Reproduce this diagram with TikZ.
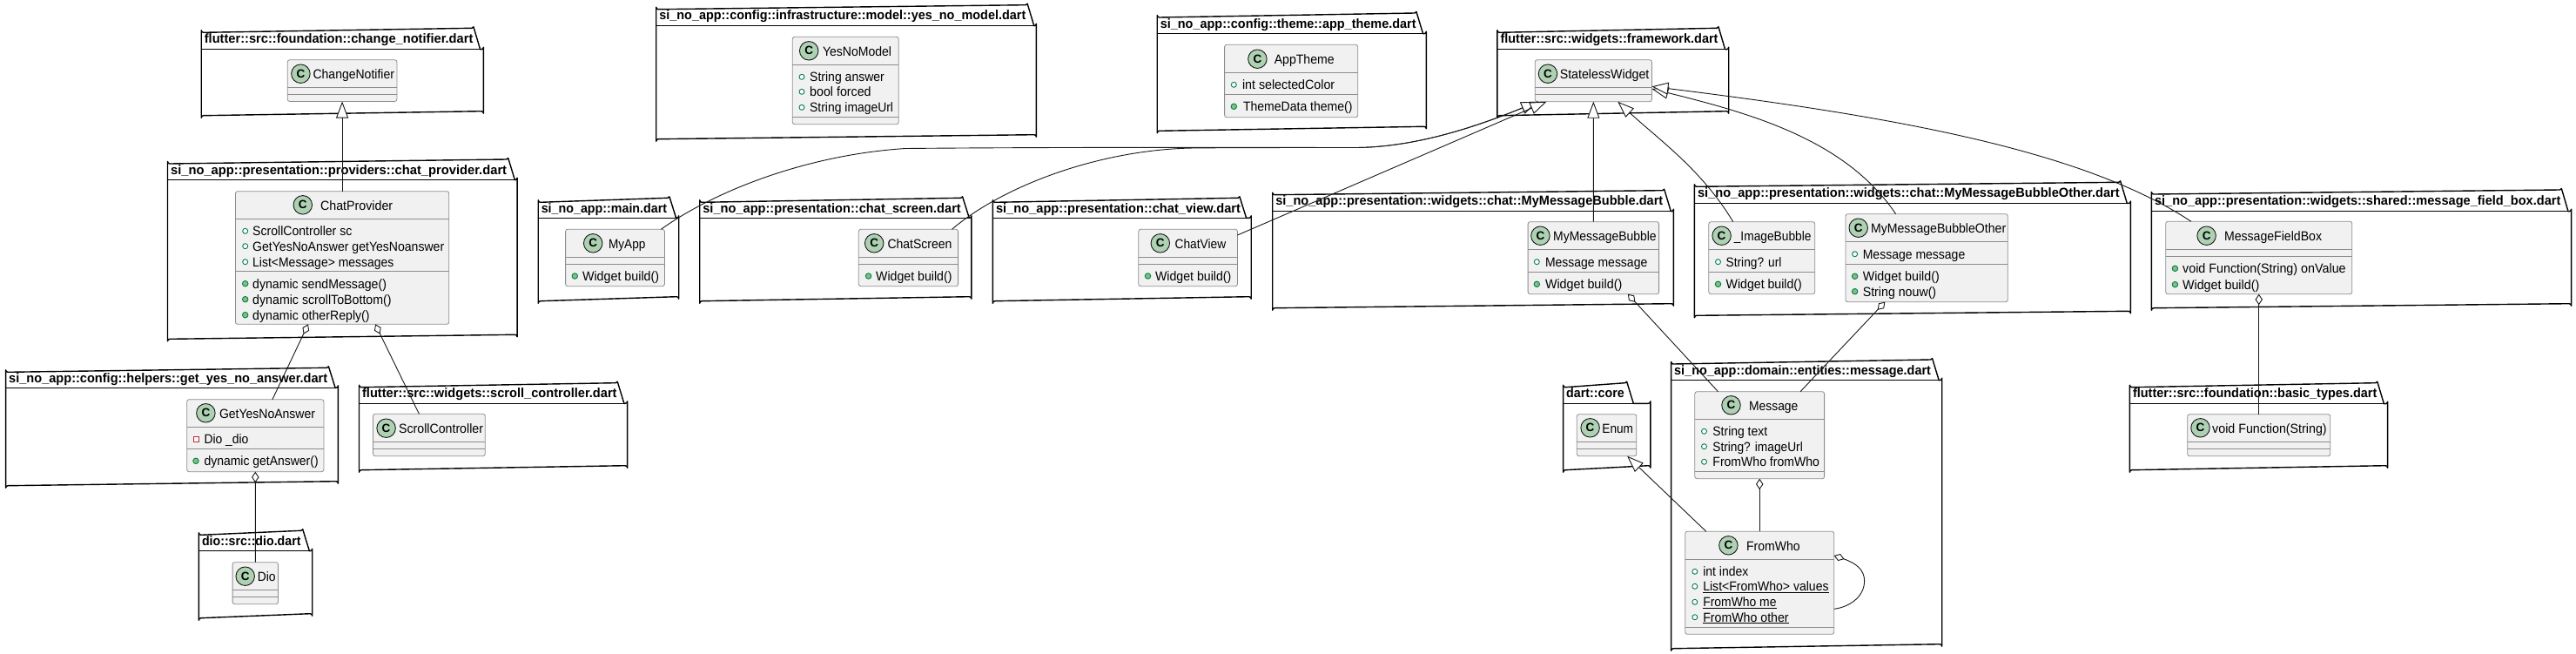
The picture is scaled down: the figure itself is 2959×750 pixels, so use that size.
\documentclass[tikz,border=0pt]{standalone}
\usepackage{fontspec}
\usepackage{graphicx}
\setmainfont{Liberation Sans}
\usetikzlibrary{arrows.meta}
\definecolor{lineC}{HTML}{181818}
\definecolor{boxC}{HTML}{F1F1F1}
\definecolor{boxL}{HTML}{8C8C8C}
\definecolor{iconC}{HTML}{ADD1B2}
\definecolor{pubL}{HTML}{038048}
\definecolor{pubF}{HTML}{84BE84}
\definecolor{privL}{HTML}{C82930}
\newcounter{autoN}
\newcommand{\fitw}[2]{\resizebox{#1pt}{\height}{#2}}
% name x0 y0 tabTopRight tabLine x2 y2 titleWidth title
\newcommand{\pkgbox}[9]{%
  \draw[pkgline] (#2,#3+2.5) arc[start angle=180,end angle=90,radius=2.5] -- (#4-2,#3)
     arc[start angle=90,end angle=15,radius=2] -- (#4+7.6,#5) -- (#6-2.5,#5)
     arc[start angle=90,end angle=0,radius=2.5] -- (#6,#7-2.5)
     arc[start angle=0,end angle=-90,radius=2.5] -- (#2+2.5,#7)
     arc[start angle=270,end angle=180,radius=2.5] -- cycle;
  \draw[pkgline] (#2,#5) -- (#4+7.6,#5);
  \node[plain,font=\fontsize{15}{15}\selectfont\bfseries] (#1) at (#2+3.6,#3+17) {\fitw{#8}{#9}};}
% name x1 y1 x2 y2 sep1 sep2
\newcommand{\cbox}[7]{%
  \node[classbox,minimum width={(#4-#2)*1pt},minimum height={(#5-#3)*1pt}] (#1) at (#2,#3) {};
  \draw[sepline] (#2,#6) -- (#4,#6);
  \draw[sepline] (#2,#7) -- (#4,#7);}
% name icon-x icon-y text-x text-y width text
\newcommand{\chead}[6]{%
  \stepcounter{autoN}%
  \node[classicon] (ic\arabic{autoN}) at (#1,#2) {};
  \node[font=\fontsize{13.5}{13.5}\selectfont\bfseries,text=black,inner sep=0pt] (icc\arabic{autoN}) at (#1,#2) {C};
  \node[plain] (hd\arabic{autoN}) at (#3,#4+5.3) {\fitw{#5}{#6}};}
% kind icon-x y text-x width text
\newcommand{\crow}[6]{%
  \stepcounter{autoN}%
  \node[#1] (mk\arabic{autoN}) at (#2,#3) {};
  \node[plain] (rw\arabic{autoN}) at (#4,#3+5.3) {\fitw{#5}{#6}};}
\tikzset{
  pkgline/.style={draw=black,line width=1.4pt,line join=round},
  sepline/.style={draw=boxL,line width=.8pt},
  plain/.style={anchor=base west,inner sep=0pt,outer sep=0pt,font=\fontsize{15}{15}\selectfont,text=black},
  classbox/.style={draw=boxL,fill=boxC,line width=.8pt,rounded corners=2.5pt,anchor=north west,inner sep=0pt,outer sep=0pt},
  classicon/.style={circle,draw=lineC,fill=iconC,line width=.9pt,minimum size=21.5pt,inner sep=0pt},
  pubattr/.style={circle,draw=pubL,line width=.9pt,fill=white,minimum size=6pt,inner sep=0pt},
  pubmeth/.style={circle,draw=pubL,line width=.9pt,fill=pubF,minimum size=6.5pt,inner sep=0pt},
  privattr/.style={rectangle,draw=privL,line width=.9pt,fill=white,minimum size=6pt,inner sep=0pt},
  inh/.style={draw=lineC,line width=.9pt,-{Triangle[fill=white,length=19pt,width=14pt,sep=0pt]}},
  agg/.style={draw=lineC,line width=.9pt,{Diamond[fill=white,length=12.5pt,width=8.5pt,sep=0pt]}-},
}
\begin{document}
\begin{tikzpicture}[x=1pt,y=-1pt]
\useasboundingbox (0,0) rectangle (2959,750);
% packages
\pkgbox{pChange}{231.2}{32.3}{544}{56.7}{555.4}{132.7}{308.6}{flutter::src::foundation::change\_notifier.dart}
\pkgbox{pProvider}{192.5}{183}{583.8}{206.7}{594.1}{389.3}{386}{si\_no\_app::presentation::providers::chat\_provider.dart}
\pkgbox{pHelpers}{6.6}{422.3}{377.5}{445.3}{388.4}{557.7}{366}{si\_no\_app::config::helpers::get\_yes\_no\_answer.dart}
\pkgbox{pScroll}{412.5}{439.7}{709.3}{463.3}{720.6}{539.7}{292.5}{flutter::src::widgets::scroll\_controller.dart}
\pkgbox{pDio}{228.4}{609.3}{347.8}{632.7}{358.7}{709.7}{113.5}{dio::src::dio.dart}
\pkgbox{pModel}{753.7}{5.7}{1180.2}{29.7}{1190.4}{159.7}{421}{si\_no\_app::config::infrastructure::model::yes\_no\_model.dart}
\pkgbox{pMain}{618.2}{227.3}{769}{250.3}{779.7}{345.7}{144.3}{si\_no\_app::main.dart}
\pkgbox{pScreen}{803.7}{227.3}{1105.7}{250.3}{1115.9}{345.7}{296.5}{si\_no\_app::presentation::chat\_screen.dart}
\pkgbox{pView}{1140.4}{227.3}{1424}{250.3}{1437.2}{345.7}{281}{si\_no\_app::presentation::chat\_view.dart}
\pkgbox{pTheme}{1329.2}{15}{1627}{38.7}{1638.3}{150.3}{293.8}{si\_no\_app::config::theme::app\_theme.dart}
\pkgbox{pFramework}{1719.9}{32.3}{1974}{56.7}{1985.7}{132.7}{250}{flutter::src::widgets::framework.dart}
\pkgbox{pBubble}{1461.7}{218.7}{1911.7}{242.7}{1922.4}{353.7}{445}{si\_no\_app::presentation::widgets::chat::MyMessageBubble.dart}
\pkgbox{pOther}{1946.4}{209.3}{2435.7}{233.5}{2447.4}{362.3}{484.7}{si\_no\_app::presentation::widgets::chat::MyMessageBubbleOther.dart}
\pkgbox{pField}{2471.4}{218}{2942.4}{242.7}{2953.6}{353.7}{466.4}{si\_no\_app::presentation::widgets::shared::message\_field\_box.dart}
\pkgbox{pBasic}{2446.4}{439.7}{2730.8}{463.7}{2742.6}{539.7}{280.3}{flutter::src::foundation::basic\_types.dart}
\pkgbox{pMessage}{1919.6}{413}{2219.6}{436.7}{2230.7}{744.7}{294.7}{si\_no\_app::domain::entities::message.dart}
\pkgbox{pCore}{1795.6}{439.7}{1868.7}{463.3}{1895.9}{539.7}{66.6}{dart::core}
% classes
\cbox{cn}{330.3}{68.7}{455.9}{116.5}{100.3}{108.3}
\chead{345.4}{84.7}{359.6}{85.3}{93.4}{ChangeNotifier}
\cbox{cp}{270.4}{219.7}{515.8}{372.3}{251.3}{311.7}
\chead{347.8}{235.3}{368.1}{236.3}{83.1}{ChatProvider}
\crow{pubattr}{281.7}{265.3}{290.2}{114.2}{ScrollController sc}
\crow{pubattr}{281.7}{282.7}{290.2}{220}{GetYesNoAnswer getYesNoanswer}
\crow{pubattr}{281.7}{300.7}{290.2}{162.3}{List<Message> messages}
\crow{pubmeth}{281.7}{325.7}{290.2}{153.8}{dynamic sendMessage()}
\crow{pubmeth}{281.7}{343.7}{290.2}{159.5}{dynamic scrollToBottom()}
\crow{pubmeth}{281.7}{361.7}{290.2}{134.5}{dynamic otherReply()}
\cbox{gy}{214.7}{458.7}{371.9}{541.7}{490.3}{515.3}
\chead{236.4}{474.3}{252}{475.3}{110}{GetYesNoAnswer}
\crow{privattr}{225}{504.3}{234.5}{51}{Dio \_dio}
\crow{pubmeth}{225}{529.3}{234.5}{131.2}{dynamic getAnswer()}
\cbox{sc}{428.5}{475.3}{557.3}{523.7}{507.3}{515.3}
\chead{443.6}{491.7}{458.2}{492.3}{96.8}{ScrollController}
\cbox{dio}{267.1}{645.7}{319.5}{693.7}{677.3}{685.3}
\chead{281.7}{661.7}{295.9}{662.3}{20.8}{Dio}
\cbox{ym}{910.3}{42.3}{1032.2}{142.7}{74.3}{134.3}
\chead{929.2}{58.3}{945}{59.3}{79.1}{YesNoModel}
\crow{pubattr}{921}{88.3}{930.2}{85.7}{String answer}
\crow{pubattr}{921}{105.3}{930.2}{70.4}{bool forced}
\crow{pubattr}{921}{123.3}{930.2}{95.9}{String imageUrl}
\cbox{ma}{649.6}{263.3}{763.4}{328.7}{295.3}{303.3}
\chead{681.2}{279.3}{699.1}{280.3}{42.3}{MyApp}
\crow{pubmeth}{660.3}{317}{669}{88.2}{Widget build()}
\cbox{cs}{986.3}{263.3}{1100.6}{328.7}{295.3}{303.3}
\chead{1004.2}{279.3}{1019.5}{280.3}{74}{ChatScreen}
\crow{pubmeth}{997.6}{317}{1006.2}{87.3}{Widget build()}
\cbox{cv}{1307.8}{263.3}{1421.4}{328.7}{295.3}{303.3}
\chead{1332.8}{279.3}{1349.6}{280.3}{58.7}{ChatView}
\crow{pubmeth}{1318.5}{317}{1327.1}{87.3}{Widget build()}
\cbox{at}{1406.6}{51.3}{1559.7}{134.7}{83.3}{108.3}
\chead{1444.4}{67.7}{1463.8}{68.3}{68.9}{AppTheme}
\crow{pubattr}{1417.3}{97.3}{1427}{106.2}{int selectedColor}
\crow{pubmeth}{1417.3}{122.3}{1428}{125.6}{ThemeData theme()}
\cbox{sw}{1763.3}{68.7}{1897.4}{116.7}{100.3}{108.3}
\chead{1778}{84.7}{1791.8}{85.3}{102.6}{StatelessWidget}
\cbox{mb}{1755.1}{254.7}{1905.6}{337.7}{286.3}{312.7}
\chead{1769.4}{270.7}{1784.2}{271.3}{118.4}{MyMessageBubble}
\crow{pubattr}{1765.3}{300.7}{1775}{117.3}{Message message}
\crow{pubmeth}{1765.3}{326.3}{1775}{88.3}{Widget build()}
\cbox{ib}{1962.8}{254.7}{2084.7}{337.7}{286.3}{312.7}
\chead{1977.6}{270.7}{1991.8}{271.3}{88.8}{\_ImageBubble}
\crow{pubattr}{1973.5}{300.7}{1982.7}{63.7}{String? url}
\crow{pubmeth}{1973.5}{326.3}{1982.7}{87.2}{Widget build()}
\cbox{mo}{2119.9}{245.7}{2306.3}{346.7}{277.3}{303.3}
\chead{2134.7}{261.7}{2149}{262.3}{155.2}{MyMessageBubbleOther}
\crow{pubattr}{2130.6}{291.7}{2139.8}{117.5}{Message message}
\crow{pubmeth}{2130.6}{317.3}{2139.8}{88}{Widget build()}
\crow{pubmeth}{2130.6}{334.7}{2139.8}{84.4}{String nouw()}
\cbox{mf}{2487.7}{254.3}{2701.8}{337.7}{286.3}{294.3}
\chead{2534.6}{270.7}{2555}{271.3}{112.1}{MessageFieldBox}
\crow{pubmeth}{2498.4}{308.3}{2507.1}{187.6}{void Function(String) onValue}
\crow{pubmeth}{2498.4}{326.7}{2507.1}{88.2}{Widget build()}
\cbox{vf}{2512.7}{475.7}{2676.8}{523.7}{507.3}{515.3}
\chead{2527.5}{491.3}{2541.2}{492.3}{131.5}{void Function(String)}
\cbox{msg}{1946.8}{449.7}{2095.6}{549.7}{481.3}{541.3}
\chead{1988.5}{465.3}{2009.1}{466.3}{56.3}{Message}
\crow{pubattr}{1957.5}{495.3}{1967.4}{62.8}{String text}
\crow{pubattr}{1957.5}{512.7}{1967.4}{103.4}{String? imageUrl}
\crow{pubattr}{1957.5}{530.3}{1967.4}{122.5}{FromWho fromWho}
\cbox{fw}{1935.7}{610.3}{2106.7}{728.3}{642.3}{720.3}
\chead{1985.4}{626.3}{2006.1}{627.3}{61.6}{FromWho}
\crow{pubattr}{1946.8}{656.3}{1956.3}{52.1}{int index}
\crow{pubattr}{1946.8}{673.3}{1956.3}{144.3}{\underline{List<FromWho> values}}
\crow{pubattr}{1946.8}{691.3}{1956.3}{84.2}{\underline{FromWho me}}
\crow{pubattr}{1946.8}{708.7}{1956.3}{98.4}{\underline{FromWho other}}
\cbox{en}{1811.3}{475.7}{1879.8}{523.7}{507.3}{515.3}
\chead{1826.6}{491.3}{1840.4}{492.3}{35.6}{Enum}
% connectors
\draw[inh] (cp.north) -- (cn.south);
\draw[agg] ([xshift=-39.1pt]cp.south) -- ([xshift=19.6pt]gy.north);
\draw[agg] ([xshift=38pt]cp.south) -- ([xshift=-11.5pt]sc.north);
\draw[agg] (gy.south) -- (dio.north);
\draw[inh] ([xshift=-4.1pt]ma.north east) .. controls (820,220) and (925,178) .. (1040,170.5)
   .. controls (1200,169) and (1400,169.3) .. (1553,169.5)
   .. controls (1620,170) and (1690,148) .. ([xshift=3pt]sw.south west);
\draw[inh] ([xshift=-7.1pt]cs.north east) .. controls (1150,215) and (1260,172) .. (1370,170)
   .. controls (1420,169.5) and (1500,169.5) .. (1553,169.5)
   .. controls (1620,170) and (1690,148) .. ([xshift=3pt]sw.south west);
\draw[inh] ([yshift=-6.7pt]cv.north east) -- ([xshift=13.2pt]sw.south west);
\draw[inh] (mb.north) -- (sw.south);
\draw[inh] ([xshift=-33pt]ib.north) .. controls (1955,195) and (1905,160) .. ([xshift=-39.2pt]sw.south east);
\draw[inh] ([xshift=-35.5pt]mo.north) .. controls (2120,160) and (2010,130) .. ([yshift=-33.3pt]sw.north east);
\draw[inh] ([xshift=29.1pt]mf.north west) .. controls (2390,170) and (2160,132) .. ([yshift=-30.6pt]sw.north east);
\draw[agg] (mf.south) -- (vf.north);
\draw[agg] ([xshift=39.5pt]mb.south) -- ([xshift=-47.7pt]msg.north);
\draw[agg] ([xshift=-47.8pt]mo.south) -- ([xshift=46.8pt]msg.north);
\draw[agg] (msg.south) -- (fw.north);
\draw[inh] ([xshift=-61.4pt]fw.north) -- ([xshift=23.55pt]en.south);
\draw[agg] ([yshift=-27.7pt]fw.north east) .. controls (2133,647) and (2141.6,655) .. (2141.6,667)
   .. controls (2141.6,685) and (2125,697) .. ([yshift=-89pt]fw.north east);
\end{tikzpicture}
\end{document}
